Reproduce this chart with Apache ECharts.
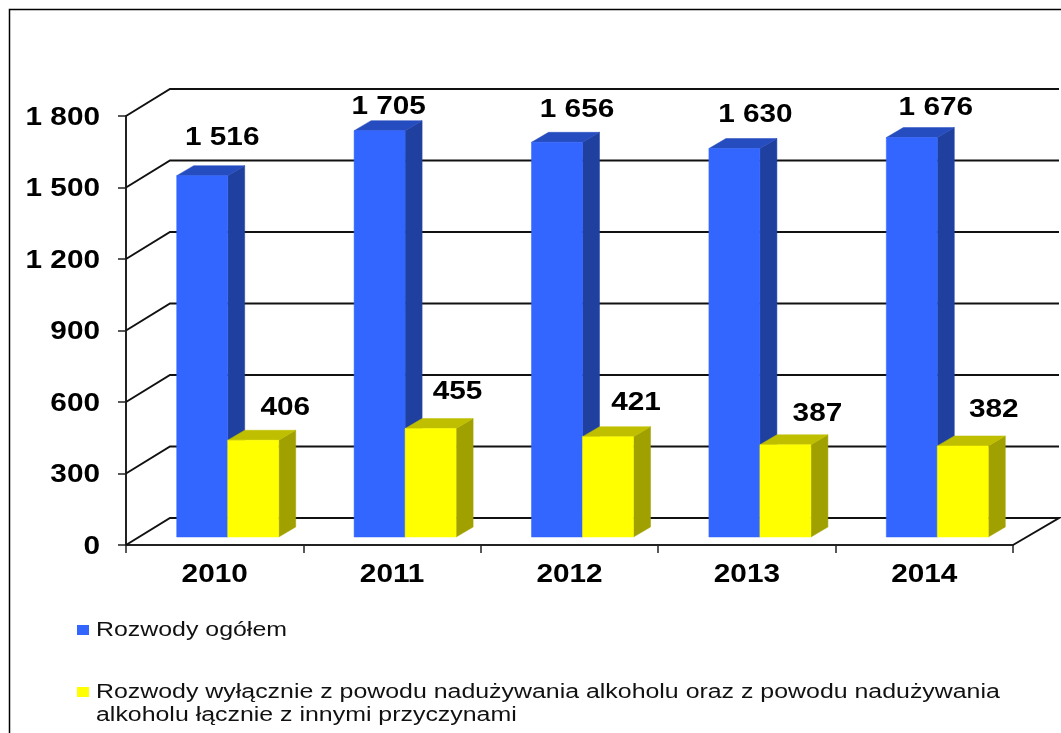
<!DOCTYPE html>
<html>
<head>
<meta charset="utf-8">
<style>
  html, body { margin: 0; padding: 0; background: #fff; }
  #chart { width: 1061px; height: 733px; }
</style>
<script src="https://cdn.jsdelivr.net/npm/echarts@6/dist/echarts.min.js"></script>
</head>
<body>
<div id="chart"></div>
<script>
const years = ["2010", "2011", "2012", "2013", "2014"];
const totalDivorces = [1516, 1705, 1656, 1630, 1676];
const alcoholDivorces = [406, 455, 421, 387, 382];
const yTicks = [0, 300, 600, 900, 1200, 1500, 1800];
const yTickLabels = ["0", "300", "600", "900", "1 200", "1 500", "1 800"];
const totalLabels = ["1 516", "1 705", "1 656", "1 630", "1 676"];
const alcoholLabels = ["406", "455", "421", "387", "382"];
const seriesNames = [
  "Rozwody ogółem",
  "Rozwody wyłącznie z powodu nadużywania alkoholu oraz z powodu nadużywania\nalkoholu łącznie z innymi przyczynami",
];

// the reference is a horizontally stretched bitmap, so the text gets stretched too
const stretch = 1.19;
const legendStretch = 1.245;
const boldFont = 'bold 25px "Liberation Sans", Arial, sans-serif';
const legendFont = '20px "Liberation Sans", Arial, sans-serif';

// 3d look: back wall shift, bar shift from the floor edge, bar depth
const wall = { dx: 44, dy: -27 };
const barShift = { dx: 13, dy: -8 };
const depth = { dx: 17, dy: -10 };
const barWidth = 51;

// hand placed data labels in the original, offset from the top of each bar
const totalLabelNudge = [[20, -38], [9, -24], [20, -32], [21, -33], [24, -29]];
const alcoholLabelNudge = [[32, -32], [27, -36], [28, -34], [32, -31], [31, -36]];

function poly(points, fill) {
  return { type: "polygon", shape: { points }, style: { fill, stroke: fill, lineWidth: 0.5 } };
}

function stretchedText(text, x, y, align) {
  return {
    type: "text",
    x,
    y,
    scaleX: stretch,
    style: { text, font: boldFont, fill: "#000", textAlign: align, textVerticalAlign: "middle" },
  };
}

function bar3d(side, colors) {
  return (params, api) => {
    const i = api.value(0);
    const top = api.coord([i, api.value(1)]);
    const base = api.coord([i, 0]);
    const x0 = top[0] + barShift.dx + (side < 0 ? -barWidth : 0);
    const x1 = x0 + barWidth;
    const y1 = top[1] + barShift.dy;
    const y0 = base[1] + barShift.dy;
    return {
      type: "group",
      children: [
        poly([[x1, y1], [x1 + depth.dx, y1 + depth.dy], [x1 + depth.dx, y0 + depth.dy], [x1, y0]], colors.side),
        poly([[x0, y1], [x0 + depth.dx, y1 + depth.dy], [x1 + depth.dx, y1 + depth.dy], [x1, y1]], colors.top),
        poly([[x0, y1], [x1, y1], [x1, y0], [x0, y0]], colors.front),
      ],
    };
  };
}

function barLabel(side, labels, nudges) {
  return (params, api) => {
    const i = api.value(0);
    const top = api.coord([i, api.value(1)]);
    const x = top[0] + barShift.dx + side * barWidth / 2 + nudges[i][0];
    return stretchedText(labels[i], x, top[1] + barShift.dy + nudges[i][1], "center");
  };
}

function wallLines(params, api) {
  const [cx, y] = api.coord([0, api.value(0)]);
  const band = api.size([1, 0])[0];
  const x = cx - band / 2;
  const xEnd = x + band * years.length;
  const isFloor = api.value(0) === 0;
  const points = [[x, y], [x + wall.dx, y + wall.dy], [xEnd + wall.dx + 2, y + wall.dy]];
  if (isFloor) points.push([xEnd, y]);
  return {
    type: "polyline",
    shape: { points },
    style: { fill: "none", stroke: "#111", lineWidth: 2 },
  };
}

const chart = echarts.init(document.getElementById("chart"));
chart.setOption({
  animation: false,
  backgroundColor: "#fff",
  grid: { left: 126, right: 48, top: 116, bottom: 188 },
  xAxis: {
    type: "category",
    data: years,
    axisLine: { lineStyle: { color: "#222", width: 2 } },
    axisTick: { show: true, alignWithLabel: false, length: 8, lineStyle: { color: "#222", width: 1.5 } },
    axisLabel: { show: false },
  },
  yAxis: {
    type: "value",
    min: 0,
    max: 1800,
    interval: 300,
    axisLine: { show: true, lineStyle: { color: "#222", width: 2 } },
    axisTick: { show: true, length: 8, lineStyle: { color: "#222", width: 1.5 } },
    axisLabel: { show: false },
    splitLine: { show: false },
  },
  graphic: [
    {
      type: "polyline",
      silent: true,
      shape: { points: [[9.5, 733], [9.5, 9.5], [1061, 9.5]] },
      style: { fill: "none", stroke: "#000", lineWidth: 1.5 },
    },
    { type: "rect", shape: { x: 77, y: 625, width: 12, height: 10 }, style: { fill: "#3366ff" } },
    {
      type: "text", x: 96, y: 630, scaleX: legendStretch,
      style: { text: seriesNames[0], font: legendFont, fill: "#111", textVerticalAlign: "middle" },
    },
    { type: "rect", shape: { x: 77, y: 687, width: 12, height: 10 }, style: { fill: "#ffff00" } },
    {
      type: "text", x: 96, y: 704, scaleX: legendStretch,
      style: { text: seriesNames[1], font: legendFont, lineHeight: 23, fill: "#111", textVerticalAlign: "middle" },
    },
  ],
  series: [
    {
      type: "custom",
      name: "walls",
      coordinateSystem: "cartesian2d",
      clip: false,
      silent: true,
      z: 1,
      data: yTicks.map((t) => [t]),
      encode: { y: 0 },
      renderItem: wallLines,
    },
    {
      type: "custom",
      name: seriesNames[0],
      clip: false,
      z: 2,
      data: totalDivorces.map((v, i) => [i, v]),
      encode: { x: 0, y: 1 },
      renderItem: bar3d(-1, { front: "#3366ff", side: "#2040a0", top: "#264dbf" }),
    },
    {
      type: "custom",
      name: seriesNames[1],
      clip: false,
      z: 3,
      data: alcoholDivorces.map((v, i) => [i, v]),
      encode: { x: 0, y: 1 },
      renderItem: bar3d(1, { front: "#ffff00", side: "#a0a000", top: "#bfbf00" }),
    },
    {
      type: "custom",
      clip: false,
      silent: true,
      z: 4,
      data: totalDivorces.map((v, i) => [i, v]),
      encode: { x: 0, y: 1 },
      renderItem: barLabel(-1, totalLabels, totalLabelNudge),
    },
    {
      type: "custom",
      clip: false,
      silent: true,
      z: 4,
      data: alcoholDivorces.map((v, i) => [i, v]),
      encode: { x: 0, y: 1 },
      renderItem: barLabel(1, alcoholLabels, alcoholLabelNudge),
    },
    {
      // tick labels are drawn here so they can carry the same horizontal stretch
      type: "custom",
      clip: false,
      silent: true,
      z: 4,
      data: yTicks.map((t, i) => [i, t]),
      encode: { y: 1 },
      renderItem: (params, api) => {
        const y = api.coord([0, api.value(1)])[1];
        return stretchedText(yTickLabels[api.value(0)], 100, y + 2, "right");
      },
    },
    {
      type: "custom",
      clip: false,
      silent: true,
      z: 4,
      data: years.map((y, i) => [i, 0]),
      encode: { x: 0, y: 1 },
      renderItem: (params, api) => {
        const [x, y] = api.coord([api.value(0), 0]);
        return stretchedText(years[api.value(0)], x, y + 30, "center");
      },
    },
  ],
});
</script>
</body>
</html>
